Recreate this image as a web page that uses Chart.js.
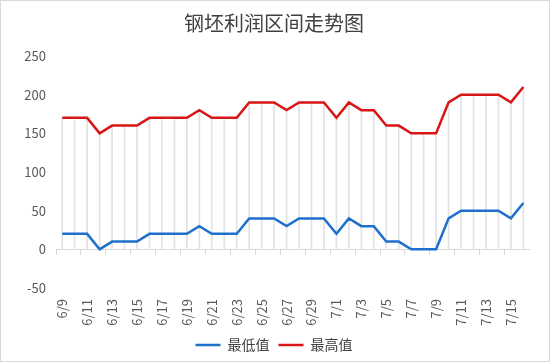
<!DOCTYPE html>
<html><head><meta charset="utf-8">
<script src="https://cdn.jsdelivr.net/npm/chart.js@4/dist/chart.umd.min.js"></script>
<style>html,body{margin:0;padding:0;background:#fff}canvas{display:block}</style>
</head><body>
<canvas id="c" width="550" height="362"></canvas>
<script>
const categories = ['6/9','6/10','6/11','6/12','6/13','6/14','6/15','6/16','6/17','6/18','6/19','6/20','6/21','6/22','6/23','6/24','6/25','6/26','6/27','6/28','6/29','6/30','7/1','7/2','7/3','7/4','7/5','7/6','7/7','7/8','7/9','7/10','7/11','7/12','7/13','7/14','7/15','7/16'];
const minValues = [20,20,20,0,10,10,10,20,20,20,20,30,20,20,20,40,40,40,30,40,40,40,20,40,30,30,10,10,0,0,0,40,50,50,50,50,40,60];
const maxValues = [170,170,170,150,160,160,160,170,170,170,170,180,170,170,170,190,190,190,180,190,190,190,170,190,180,180,160,160,150,150,150,190,200,200,200,200,190,210];
const seriesNames = ['最低值','最高值'];
const yTicks = [-50,0,50,100,150,200,250];
const titleText = '钢坯利润区间走势图';

const FONT = "'Noto Sans CJK SC', 'Noto Sans', sans-serif";
Chart.defaults.font.family = FONT;

const borderPlugin = {
  id: 'outerBorder',
  afterDraw(chart) {
    const ctx = chart.ctx;
    ctx.save();
    ctx.strokeStyle = '#d9d9d9';
    ctx.lineWidth = 1;
    ctx.strokeRect(0.5, 0.5, chart.width - 1, chart.height - 1);
    ctx.restore();
  }
};

new Chart(document.getElementById('c'), {
  data: {
    labels: categories,
    datasets: [
      { type: 'line', label: seriesNames[0], data: minValues, borderColor: '#1f6fcc', backgroundColor: '#1f6fcc', borderWidth: 2.5, pointRadius: 0, tension: 0, order: 1 },
      { type: 'line', label: seriesNames[1], data: maxValues, borderColor: '#d91515', backgroundColor: '#d91515', borderWidth: 2.5, pointRadius: 0, tension: 0, order: 1 },
      { type: 'bar', label: 'drop', data: maxValues.map(v => [0, v]), backgroundColor: '#e2e2e2', barThickness: 1, order: 10 }
    ]
  },
  options: {
    responsive: false,
    animation: false,
    layout: { padding: { left: 0, right: 2, top: 0, bottom: 0 } },
    plugins: {
      tooltip: { enabled: false },
      title: { display: true, text: titleText, color: '#404040', font: { size: 20, weight: 'normal', family: FONT }, padding: { top: 11, bottom: 21 } },
      legend: {
        position: 'bottom',
        labels: {
          filter: item => item.text !== 'drop',
          usePointStyle: true, pointStyle: 'line', pointStyleWidth: 25,
          color: '#404040', font: { size: 14, family: FONT }, padding: 9
        }
      }
    },
    scales: {
      x: {
        type: 'category',
        offset: true,
        border: { display: false },
        grid: { display: false, drawTicks: false },
        ticks: {
          autoSkip: false, minRotation: 90, maxRotation: 90, padding: 11,
          color: '#595959', font: { size: 13 },
          callback: function(v, i) { return i % 2 === 0 ? this.getLabelForValue(v) : ''; }
        },
        afterFit(s) { s.height = 41; }
      },
      x2: {
        type: 'category',
        position: { y: 0 },
        offset: true,
        border: { display: true, color: '#d9d9d9', width: 1 },
        grid: {
          drawOnChartArea: false, drawTicks: true, tickLength: 5, offset: true,
          color: ctx => (ctx.index % 2 === 0 ? '#d9d9d9' : 'rgba(0,0,0,0)')
        },
        ticks: { display: false, autoSkip: false }
      },
      y: {
        type: 'linear',
        min: yTicks[0], max: yTicks[yTicks.length - 1],
        border: { display: false },
        grid: { display: false, drawTicks: false },
        ticks: { stepSize: 50, padding: 10, color: '#595959', font: { size: 13 } },
        afterFit(s) { s.width = 56; }
      }
    }
  },
  plugins: [borderPlugin]
});
</script>
</body></html>
